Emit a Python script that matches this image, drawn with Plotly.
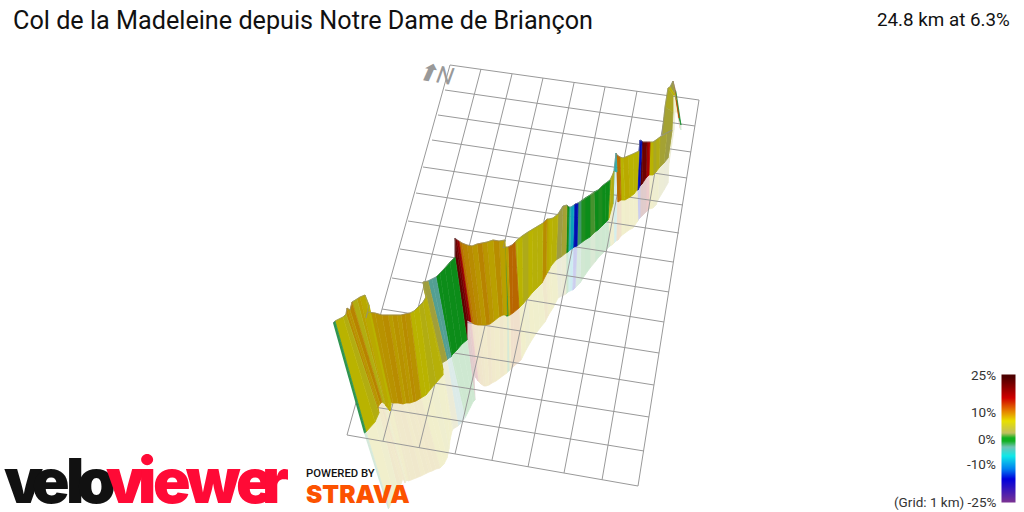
import numpy as np
import plotly.graph_objects as go

title = "Col de la Madeleine depuis Notre Dame de Briançon"
subtitle = "24.8 km at 6.3%"

# grid corners (pixels), 13 rows x 8 columns in perspective
row_left_x = [450, 445, 438, 432, 423, 416, 408, 400, 392, 382, 373, 364, 356, 347]
row_left_y = [65, 90, 115, 140, 167, 193, 221, 249, 278, 309, 340, 372, 404, 435]
row_right_x = [699, 695, 691, 687, 683, 679, 673, 669, 664, 659, 654, 649, 644, 638]
row_right_y = [100, 126, 152, 178, 205, 233, 262, 292, 322, 353, 385, 417, 451, 486]
col_top_x = [450, 481, 512, 543, 574, 605, 637, 668, 699]
col_top_y = [65, 69, 74, 78, 83, 87, 91, 96, 100]
col_bottom_x = [347, 383, 419, 455, 492, 528, 564, 602, 638]
col_bottom_y = [435, 441, 448, 454, 460, 467, 473, 480, 486]

# climb wall: top of wall, foot of wall, end of the ground shadow, gradient %
top_x = [333, 335, 343, 346, 347, 350, 352, 357, 360, 365, 369, 367, 366,
         368, 375, 382, 388, 392, 397, 401, 405, 410, 414, 419, 423, 426, 424, 423, 428, 432, 436, 440, 445, 450, 455,
         455, 457, 459, 462, 467, 472, 477, 482, 487, 493, 499, 505,
         503, 505, 508, 512, 515,
         517, 522, 528, 533, 538, 543, 547, 549, 553, 558, 563, 567, 569, 571, 574, 575, 578, 581, 585, 590, 594, 598, 602, 606, 610, 612, 614,
         614, 616, 617, 620, 623, 628, 633, 637, 639,
         640, 642, 643, 647, 650, 653, 656, 660, 667, 672,
         662, 665, 668, 670, 673, 675, 676]
top_y = [323, 321, 317, 314, 308, 310, 302, 299, 297, 295, 305, 313, 318,
         312, 313, 315, 315, 315, 315, 315, 314, 313, 311, 306, 302, 297, 289, 282, 281, 279, 277, 273, 268, 262, 257,
         238, 240, 241, 243, 245, 246, 244, 243, 242, 240, 241, 240,
         248, 247, 247, 245, 242,
         240, 236, 232, 229, 226, 223, 219, 219, 218, 214, 206, 205, 207, 207, 205, 204, 203, 201, 198, 195, 192, 190, 186, 183, 180, 176, 171,
         171, 153, 155, 157, 158, 156, 154, 152, 151,
         140, 141, 142, 142, 142, 142, 140, 137, 133, 130,
         135, 107, 88, 87, 81, 90, 92]
base_x = [364, 366, 375, 379, 378, 380, 382, 385, 386, 390, 391, 391, 388,
          389, 393, 398, 403, 406, 410, 413, 416, 421, 426, 430, 436, 443, 443, 442, 447, 449, 451, 452, 457, 462, 467,
          467, 469, 471, 474, 478, 482, 486, 490, 494, 499, 503, 507,
          506, 508, 510, 513, 519,
          519, 523, 528, 532, 537, 542, 546, 549, 551, 556, 561, 566, 568, 570, 573, 574, 577, 581, 585, 590, 595, 598, 602, 605, 608, 609, 613,
          614, 617, 618, 621, 625, 630, 634, 637, 637,
          638, 640, 642, 646, 649, 653, 656, 659, 664, 668,
          672, 673, 673, 675, 676, 679, 681]
base_y = [433, 432, 422, 413, 407, 404, 402, 404, 406, 411, 405, 403, 402,
          402, 403, 403, 404, 403, 403, 402, 401, 398, 395, 390, 383, 375, 370, 363, 360, 358, 357, 355, 350, 344, 340,
          320, 321, 322, 324, 325, 325, 325, 324, 321, 317, 315, 315,
          316, 316, 315, 313, 308,
          308, 304, 298, 293, 288, 283, 275, 270, 266, 260, 257, 253, 252, 250, 248, 247, 246, 243, 240, 237, 232, 230, 226, 223, 220, 218, 204,
          171, 172, 202, 200, 200, 197, 194, 190, 190,
          190, 186, 184, 178, 175, 175, 172, 168, 163, 158,
          130, 112, 95, 95, 100, 118, 125]
shadow_x = [388, 389, 394, 398, 401, 403, 405, 406, 407, 408, 408, 408, 408,
            408, 411, 416, 421, 425, 429, 432, 436, 440, 444, 447, 449, 450, 452, 453, 458, 462, 465, 467, 470, 473, 475,
            474, 476, 478, 481, 484, 486, 489, 492, 496, 500, 504, 507,
            507, 509, 511, 514, 521,
            522, 526, 530, 535, 540, 545, 548, 551, 553, 558, 562, 566, 568, 570, 572, 573, 575, 580, 585, 590, 595, 598, 602, 606, 610, 612, 614,
            614, 616, 618, 621, 625, 629, 633, 637, 638,
            638, 640, 642, 646, 649, 653, 656, 658, 664, 668,
            669, 674, 675, 677, 678, 680, 681]
shadow_y = [509, 508, 497, 490, 484, 478, 483, 481, 480, 481, 481, 481, 481,
            481, 480, 478, 476, 474, 472, 471, 469, 468, 464, 458, 449, 440, 431, 429, 426, 422, 418, 414, 408, 402, 400,
            375, 378, 381, 384, 386, 386, 385, 383, 381, 378, 375, 373,
            372, 371, 369, 366, 360,
            358, 350, 343, 335, 328, 322, 316, 311, 308, 298, 296, 294, 292, 291, 290, 290, 288, 283, 275, 268, 262, 258, 254, 250, 246, 245, 243,
            243, 241, 240, 236, 233, 230, 228, 222, 221,
            220, 218, 216, 212, 209, 208, 205, 200, 190, 183,
            163, 130, 112, 112, 116, 128, 130]
grade = [-1.5, -1.5, 7, 6, 9, 8.5, 9.5, 6, 8, 7.5, 7, 6, 8.5,
         8.8, 8.6, 8.7, 9, 8.2, 8.7, 8.4, 9, 8.7, 7, 7, 6, 6.5, 7, 5, 3.5, -3, -3, 0.5, 0, 0.3, 0,
         22, 20, 17, 10.5, 9.5, 9, 8.5, 9.5, 8.5, 8, 9, 8,
         -1, -1, 8, 11, 11,
         6.5, 7, 5.5, 7, 6.5, 6.5, 9, 7.5, 7, 6.5, 3, 4, 0.5, -5, -8, -15, -15, -2, 1, 0.5, 1.5, 0, 1, 0.3, 0.5, 6, 6,
         -5, -5, 11, 10.5, 7, 7.5, 7, 7, 7,
         -15, -15, 22, 21, 16, 7, 5, 6, 4, 3,
         5, 4, 5, 7, 3, 12, -1]

# colour legend
scale_grades = [-25, -15.5, -12, -6.5, -2.7, -0.5, 0.8, 2.5, 7, 11, 16, 25]
scale_r = [122, 0, 0, 16, 112, 16, 16, 192, 232, 230, 208, 77]
scale_g = [50, 0, 128, 232, 196, 176, 176, 192, 224, 128, 0, 0]
scale_b = [148, 220, 240, 232, 180, 32, 32, 96, 0, 0, 0, 0]
bar_grades = [-25, -25, -15.5, -12, -6.5, -2.7, -0.5, 0.8, 2.5, 7, 11, 16, 25, 25]
bar_y = [502, 501, 478, 468, 455, 446, 440, 437, 432, 420, 410, 397, 376, 375]
bar_x = [1002, 1003, 1014, 1015]
legend_labels = ["(Grid: 1 km) -25%", "-10%", "0%", "10%", "25%"]
legend_label_y = [502, 464, 439, 412, 375]

logo_letters = ["v", "e", "l", "o", "v", "i", "e", "w", "e", "r"]
logo_x = [23, 51, 75, 96, 125, 147, 172, 213, 255, 275]
logo_colors = ["#111111"] * 4 + ["#ff0a36"] * 6


def grade_rgb(g):
    return (np.interp(g, scale_grades, scale_r),
            np.interp(g, scale_grades, scale_g),
            np.interp(g, scale_grades, scale_b))


def wall_color(g):
    r, gr, b = grade_rgb(g)
    return "rgb(%d,%d,%d)" % (r * 0.8, gr * 0.8, b * 0.8)


def shadow_color(g):
    r, gr, b = grade_rgb(g)
    return "rgb(%d,%d,%d)" % (r * 0.8 * 0.2 + 204, gr * 0.8 * 0.2 + 204, b * 0.8 * 0.2 + 204)


def quad(xs, ys, color):
    return go.Scatter(x=xs, y=ys, mode="lines", fill="toself", fillcolor=color,
                      line=dict(color=color, width=0.8), hoverinfo="skip", showlegend=False)


fig = go.Figure()

n = len(top_x)

# ground shadows first, the grid shows over them
for i in range(n - 1, 0, -1):
    fig.add_trace(quad([base_x[i - 1], base_x[i], shadow_x[i], shadow_x[i - 1]],
                       [base_y[i - 1], base_y[i], shadow_y[i], shadow_y[i - 1]],
                       shadow_color(grade[i])))

for i in range(len(row_left_x)):
    fig.add_trace(go.Scatter(x=[row_left_x[i], row_right_x[i]], y=[row_left_y[i], row_right_y[i]], mode="lines",
                             line=dict(color="#999999", width=1), hoverinfo="skip", showlegend=False))
for i in range(len(col_top_x)):
    fig.add_trace(go.Scatter(x=[col_top_x[i], col_bottom_x[i]], y=[col_top_y[i], col_bottom_y[i]], mode="lines",
                             line=dict(color="#999999", width=1), hoverinfo="skip", showlegend=False))

# walls, far end first so the near parts cover it
for i in range(n - 1, 0, -1):
    fig.add_trace(quad([top_x[i - 1], top_x[i], base_x[i], base_x[i - 1]],
                       [top_y[i - 1], top_y[i], base_y[i], base_y[i - 1]],
                       wall_color(grade[i])))

fig.add_trace(go.Scatter(x=top_x, y=top_y, mode="lines", line=dict(color="rgba(140,140,140,0.7)", width=0.8),
                         hoverinfo="skip", showlegend=False))

# colour bar
bar_scale = []
for g, r, gr, b in zip(scale_grades, scale_r, scale_g, scale_b):
    bar_scale.append([(g + 25) / 50, "rgb(%d,%d,%d)" % (r, gr, b)])
fig.add_trace(go.Heatmap(x=bar_x, y=bar_y, z=[[g] * len(bar_x) for g in bar_grades],
                         colorscale=bar_scale, zmin=-25, zmax=25, zsmooth="best",
                         showscale=False, hoverinfo="skip"))

fig.add_annotation(x=11, y=20, text=title, showarrow=False, xanchor="left", yanchor="middle",
                   font=dict(family="Roboto", size=25.2, color="#111111"))
fig.add_annotation(x=1012, y=20, text=subtitle, showarrow=False, xanchor="right", yanchor="middle",
                   font=dict(family="Roboto", size=18.8, color="#111111"))
fig.add_annotation(x=435, y=74, text="<i>⬆N</i>", showarrow=False, textangle=10,
                   font=dict(family="Roboto", size=24, color="#999999"))

for label, y in zip(legend_labels, legend_label_y):
    fig.add_annotation(x=998, y=y, text=label, showarrow=False, xanchor="right", yanchor="middle",
                       font=dict(family="Roboto", size=13.5, color="#333333"))

for letter, x, color in zip(logo_letters, logo_x, logo_colors):
    fig.add_annotation(x=x, y=480, text=letter, showarrow=False, xanchor="center", yanchor="middle",
                       font=dict(family="Inter", size=62, color=color, weight=900))
fig.add_annotation(x=304, y=473, text="POWERED BY", showarrow=False, xanchor="left", yanchor="middle",
                   font=dict(family="Roboto", size=11.3, color="#111111", weight=500))
fig.add_annotation(x=304, y=494, text="STRAVA", showarrow=False, xanchor="left", yanchor="middle",
                   font=dict(family="Inter", size=24.5, color="#fc5200", weight=900))

fig.update_layout(
    width=1024, height=512,
    margin=dict(l=0, r=0, t=0, b=0),
    paper_bgcolor="white", plot_bgcolor="white",
    xaxis=dict(range=[0, 1024], visible=False),
    yaxis=dict(range=[512, 0], visible=False),
    showlegend=False,
)

# the page's default body margin would push the chart off by 8 px
fig.write_html("out.html", config={"displayModeBar": False},
               post_script="document.body.style.margin='0';document.body.style.overflow='hidden';")
